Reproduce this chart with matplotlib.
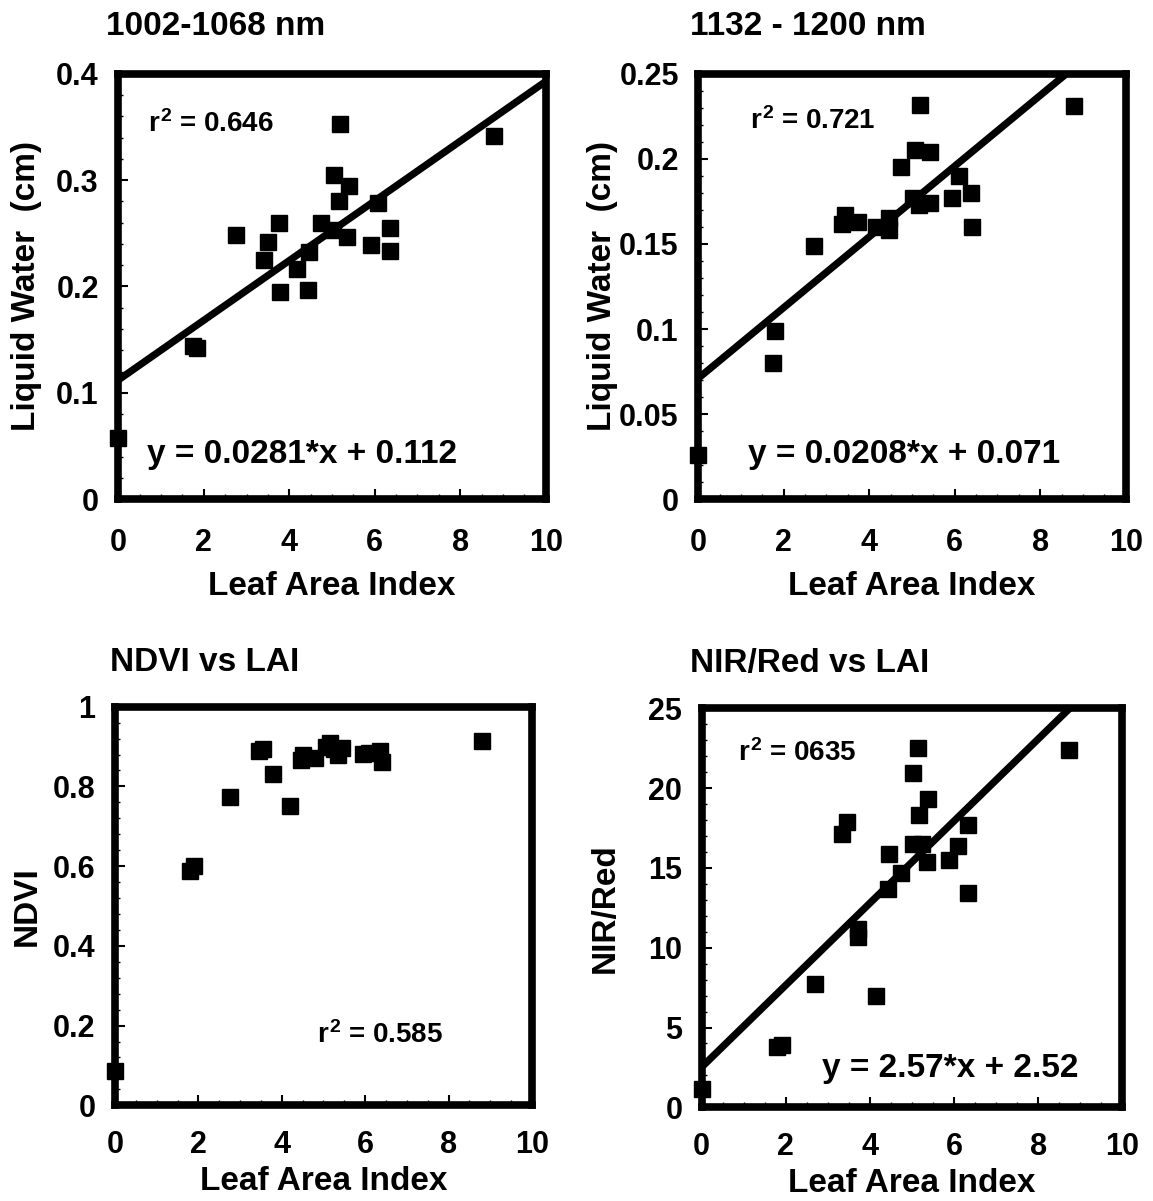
import numpy as np
import matplotlib
matplotlib.use("Agg")
import matplotlib.pyplot as plt
from matplotlib.ticker import MultipleLocator

plt.rcParams['font.family'] = ['Liberation Sans', 'DejaVu Sans']
plt.rcParams['font.weight'] = 'bold'
plt.rcParams['mathtext.fontset'] = 'custom'
plt.rcParams['mathtext.rm'] = 'Liberation Sans:bold'
plt.rcParams['mathtext.it'] = 'Liberation Sans:bold'
plt.rcParams['mathtext.bf'] = 'Liberation Sans:bold'

# --- data ---
# liquid water, 1002-1068 nm
lai_a = [0, 1.75, 1.85, 2.75, 3.50, 3.42, 3.76, 3.78, 4.19, 4.47, 4.45, 4.74,
         5.05, 5.19, 5.40, 5.16, 5.03, 5.34, 5.91, 6.08, 6.36, 6.36, 8.80]
water_a = [0.057, 0.144, 0.142, 0.248, 0.242, 0.225, 0.260, 0.195, 0.216, 0.232,
           0.197, 0.260, 0.305, 0.353, 0.295, 0.280, 0.253, 0.247, 0.239, 0.279,
           0.255, 0.233, 0.342]

# liquid water, 1132-1200 nm
lai_b = [0, 1.79, 1.74, 2.71, 3.43, 3.36, 3.74, 4.17, 4.47, 4.47, 4.74, 5.07,
         5.42, 5.19, 5.03, 5.17, 5.42, 5.93, 6.11, 6.38, 6.40, 8.80]
water_b = [0.026, 0.099, 0.080, 0.149, 0.167, 0.162, 0.163, 0.160, 0.165, 0.158,
           0.195, 0.205, 0.204, 0.232, 0.177, 0.173, 0.174, 0.177, 0.190, 0.180,
           0.160, 0.231]

# NDVI
lai_c = [0, 1.8, 1.9, 2.75, 3.45, 3.55, 3.8, 4.2, 4.45, 4.5, 4.8, 5.05, 5.15,
         5.25, 5.35, 5.45, 5.95, 6.1, 6.35, 6.4, 8.8]
ndvi = [0.086, 0.588, 0.600, 0.774, 0.888, 0.895, 0.832, 0.751, 0.866, 0.878,
        0.872, 0.900, 0.910, 0.893, 0.880, 0.897, 0.882, 0.883, 0.888, 0.862, 0.915]

# NIR/Red
lai_d = [0, 1.8, 1.9, 2.69, 3.34, 3.45, 3.71, 3.72, 4.15, 4.46, 4.43, 4.73,
         5.03, 5.15, 5.39, 5.16, 5.02, 5.23, 5.35, 5.89, 6.09, 6.34, 6.34, 8.74]
nir_red = [1.15, 3.8, 3.9, 7.7, 17.1, 17.9, 11.2, 10.7, 6.97, 15.85, 13.66, 14.7,
           20.96, 22.5, 19.3, 18.3, 16.5, 16.5, 15.4, 15.5, 16.4, 17.7, 13.4, 22.4]

# regression fits printed on the chart
fit_a = (0.0281, 0.112)
fit_b = (0.0208, 0.071)
fit_d = (2.57, 2.52)

fig = plt.figure(figsize=(11.53, 12.01), dpi=100)

panels = [
    dict(rect=[0.1026, 0.5845, 0.3707, 0.3539], x=lai_a, y=water_a, fit=fit_a,
         ymax=0.4, ymaj=0.1, ymin=0.02, yticklabels=['0', '0.1', '0.2', '0.3', '0.4'],
         title='1002-1068 nm', title_x=-0.029, ylabel='Liquid Water  (cm)', ylabel_x=-0.215,
         xlabel_y=-0.205, xpad=21,
         r2='$r^2$ = 0.646', r2_pos=(0.07, 0.882), eq='y = 0.0281*x + 0.112', eq_pos=(0.066, 0.104)),
    dict(rect=[0.6056, 0.5845, 0.3707, 0.3539], x=lai_b, y=water_b, fit=fit_b,
         ymax=0.25, ymaj=0.05, ymin=0.01,
         yticklabels=['0', '0.05', '0.1', '0.15', '0.2', '0.25'],
         title='1132 - 1200 nm', title_x=-0.02, ylabel='Liquid Water  (cm)', ylabel_x=-0.225,
         xlabel_y=-0.205, xpad=21,
         r2='$r^2$ = 0.721', r2_pos=(0.121, 0.889), eq='y = 0.0208*x + 0.071', eq_pos=(0.116, 0.104)),
    dict(rect=[0.0997, 0.0797, 0.3617, 0.3319], x=lai_c, y=ndvi, fit=None,
         ymax=1.0, ymaj=0.2, ymin=0.04,
         yticklabels=['0', '0.2', '0.4', '0.6', '0.8', '1'],
         title='NDVI vs LAI', title_x=-0.012, ylabel='NDVI', ylabel_x=-0.21,
         xlabel_y=-0.19, xpad=18,
         r2='$r^2$ = 0.585', r2_pos=(0.484, 0.176), eq=None, eq_pos=None),
    dict(rect=[0.6086, 0.078, 0.3648, 0.3322], x=lai_d, y=nir_red, fit=fit_d,
         ymax=25, ymaj=5, ymin=1,
         yticklabels=['0', '5', '10', '15', '20', '25'],
         title='NIR/Red vs LAI', title_x=-0.028, ylabel='NIR/Red', ylabel_x=-0.23,
         xlabel_y=-0.19, xpad=18,
         r2='$r^2$ = 0635', r2_pos=(0.086, 0.888), eq='y = 2.57*x + 2.52', eq_pos=(0.285, 0.098)),
]

for p in panels:
    ax = fig.add_axes(p['rect'])
    ax.set_xlim(0, 10)
    ax.set_ylim(0, p['ymax'])

    if p['fit'] is not None:
        xs = np.array([0, 10])
        ax.plot(xs, p['fit'][0] * xs + p['fit'][1], color='black', lw=5.2, solid_capstyle='butt', zorder=2)
    ax.plot(p['x'], p['y'], 's', color='black', ms=11, clip_on=False, zorder=5)

    for s in ax.spines.values():
        s.set_linewidth(5.5)
    ax.xaxis.set_minor_locator(MultipleLocator(0.5))
    ax.yaxis.set_minor_locator(MultipleLocator(p['ymin']))
    ax.set_yticks(np.arange(len(p['yticklabels'])) * p['ymaj'])
    ax.set_yticklabels(p['yticklabels'])
    ax.set_xticks([0, 2, 4, 6, 8, 10])
    ax.set_xticklabels(['0', '2', '4', '6', '8', '10'])
    ax.tick_params(which='major', direction='in', length=7, width=1.5, labelsize=22)
    ax.tick_params(which='minor', direction='in', length=3.5, width=1)
    ax.tick_params(axis='x', which='major', pad=p['xpad'])
    ax.tick_params(axis='y', which='major', pad=14)

    ax.text(p['title_x'], 1.112, p['title'], transform=ax.transAxes, fontsize=24,
            fontweight='bold', ha='left', va='center')
    ax.text(p['ylabel_x'], 0.5, p['ylabel'], transform=ax.transAxes, fontsize=24,
            fontweight='bold', ha='center', va='center', rotation=90)
    ax.text(0.5, p['xlabel_y'], 'Leaf Area Index', transform=ax.transAxes, fontsize=24,
            fontweight='bold', ha='center', va='center')
    ax.text(p['r2_pos'][0], p['r2_pos'][1], p['r2'], transform=ax.transAxes, fontsize=20,
            fontweight='bold', ha='left', va='center')
    if p['eq'] is not None:
        ax.text(p['eq_pos'][0], p['eq_pos'][1], p['eq'], transform=ax.transAxes, fontsize=24,
                fontweight='bold', ha='left', va='center')

fig.savefig('out.png', dpi=100)
